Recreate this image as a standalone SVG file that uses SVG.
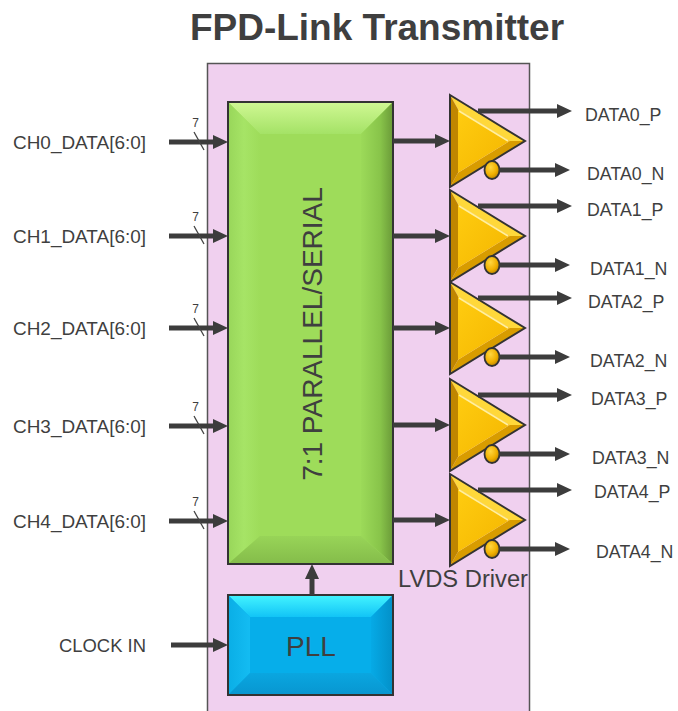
<svg xmlns="http://www.w3.org/2000/svg" xmlns:xlink="http://www.w3.org/1999/xlink" width="678" height="711" viewBox="0 0 678 711">
<style>
  text { font-family: "Liberation Sans", Arial, sans-serif; fill: #3f3f3f; }
  .lbl { font-size: 19px; }
  .out { font-size: 17.8px; }
  .bw { font-size: 12px; }
  .conn { stroke: #3c3c3c; stroke-width: 5; fill: none; marker-end: url(#ah); }
  .slash { stroke: #444; stroke-width: 1.3; fill: none; }
  .edge { fill: none; stroke: #333; stroke-width: 2; stroke-linejoin: miter; }
</style>
<defs>
  <marker id="ah" markerUnits="userSpaceOnUse" markerWidth="16" markerHeight="14" refX="3" refY="7" orient="auto" overflow="visible">
    <path d="M0,0 L15,7 L0,14 z" fill="#3c3c3c"/>
  </marker>
  <linearGradient id="gTop" x1="0" y1="0" x2="0" y2="1">
    <stop offset="0" stop-color="#d0f894"/>
    <stop offset="1" stop-color="#a4e266"/>
  </linearGradient>
  <linearGradient id="gLeft" x1="0" y1="0" x2="1" y2="0">
    <stop offset="0" stop-color="#98d65a"/>
    <stop offset="0.5" stop-color="#a6e466"/>
    <stop offset="1" stop-color="#9edc5a"/>
  </linearGradient>
  <linearGradient id="gRight" x1="0" y1="0" x2="1" y2="0">
    <stop offset="0" stop-color="#9cda59"/>
    <stop offset="0.6" stop-color="#88c44a"/>
    <stop offset="1" stop-color="#6a9a38"/>
  </linearGradient>
  <linearGradient id="gBot" x1="0" y1="0" x2="0" y2="1">
    <stop offset="0" stop-color="#98d458"/>
    <stop offset="1" stop-color="#84bc4a"/>
  </linearGradient>
  <linearGradient id="bTop" x1="0" y1="0" x2="0" y2="1">
    <stop offset="0" stop-color="#44f4ff"/>
    <stop offset="1" stop-color="#12c4f6"/>
  </linearGradient>
  <linearGradient id="bLeft" x1="0" y1="0" x2="1" y2="0">
    <stop offset="0" stop-color="#0aaee6"/>
    <stop offset="1" stop-color="#14bcf2"/>
  </linearGradient>
  <linearGradient id="bRight" x1="0" y1="0" x2="1" y2="0">
    <stop offset="0" stop-color="#06aae6"/>
    <stop offset="1" stop-color="#0390c8"/>
  </linearGradient>
  <linearGradient id="bBot" x1="0" y1="0" x2="0" y2="1">
    <stop offset="0" stop-color="#0aa6e0"/>
    <stop offset="1" stop-color="#0896d0"/>
  </linearGradient>
  <linearGradient id="yFace" x1="0" y1="0" x2="1" y2="1">
    <stop offset="0" stop-color="#ffcc10"/>
    <stop offset="1" stop-color="#f4b600"/>
  </linearGradient>
  <radialGradient id="bub" cx="0.4" cy="0.35" r="0.7">
    <stop offset="0" stop-color="#ffd640"/>
    <stop offset="0.6" stop-color="#f0b000"/>
    <stop offset="1" stop-color="#b88200"/>
  </radialGradient>
  <g id="drv">
    <polygon points="450,-46 525,0 509.7,0 458,-31.7" fill="#ffd83a"/>
    <polygon points="450,46 525,0 509.7,0 458,31.7" fill="#d89c00"/>
    <polygon points="450,-46 458,-31.7 458,31.7 450,46" fill="#c08600"/>
    <polygon points="458,-31.7 509.7,0 458,31.7" fill="url(#yFace)"/>
    <polyline points="459,-30 508,0" stroke="#fff0a0" stroke-width="1.5" fill="none"/>
    <polygon points="450,-46 525,0 450,46" class="edge"/>
    <ellipse cx="492" cy="29" rx="7.5" ry="9" fill="url(#bub)" stroke="#333" stroke-width="1.8"/>
  </g>
</defs>

<rect width="678" height="711" fill="#ffffff"/>

<text x="377" y="40" text-anchor="middle" style="font-size:37px;font-weight:bold;" fill="#3f3f3f">FPD-Link Transmitter</text>

<g id="transmitter">
  <rect x="207.5" y="63.5" width="322" height="670" fill="#f0d0ef" stroke="#555" stroke-width="1.5"/>
</g>

<g id="serializer">
  <rect x="228" y="102" width="165" height="462" fill="#9edc5a"/>
  <polygon points="228,102 393,102 361,134 260,134" fill="url(#gTop)"/>
  <polygon points="228,102 260,134 260,536 228,564" fill="url(#gLeft)"/>
  <polygon points="393,102 361,134 361,536 393,564" fill="url(#gRight)"/>
  <polygon points="228,564 260,536 361,536 393,564" fill="url(#gBot)"/>
  <rect x="228" y="102" width="165" height="462" class="edge"/>
  <text transform="translate(322,334) rotate(-90)" text-anchor="middle" style="font-size:28px;">7:1 PARALLEL/SERIAL</text>
</g>

<g id="pll">
  <rect x="228" y="595" width="165" height="100" fill="#06aeea"/>
  <polygon points="228,595 393,595 371,617 250,617" fill="url(#bTop)"/>
  <polygon points="228,595 250,617 250,673 228,695" fill="url(#bLeft)"/>
  <polygon points="393,595 371,617 371,673 393,695" fill="url(#bRight)"/>
  <polygon points="228,695 250,673 371,673 393,695" fill="url(#bBot)"/>
  <rect x="228" y="595" width="165" height="100" class="edge"/>
  <text x="311" y="656" text-anchor="middle" style="font-size:28px;">PLL</text>
</g>

<g id="driver0"><use xlink:href="#drv" href="#drv" transform="translate(0,141)"/></g>
<g id="driver1"><use xlink:href="#drv" href="#drv" transform="translate(0,236)"/></g>
<g id="driver2"><use xlink:href="#drv" href="#drv" transform="translate(0,328)"/></g>
<g id="driver3"><use xlink:href="#drv" href="#drv" transform="translate(0,425)"/></g>
<g id="driver4"><use xlink:href="#drv" href="#drv" transform="translate(0,520)"/></g>
<text x="398" y="587" style="font-size:23px;" textLength="130" lengthAdjust="spacingAndGlyphs">LVDS Driver</text>

<g id="labels">
  <text class="lbl" x="13" y="149" textLength="133" lengthAdjust="spacingAndGlyphs">CH0_DATA[6:0]</text>
  <text class="lbl" x="13" y="243" textLength="133" lengthAdjust="spacingAndGlyphs">CH1_DATA[6:0]</text>
  <text class="lbl" x="13" y="335" textLength="133" lengthAdjust="spacingAndGlyphs">CH2_DATA[6:0]</text>
  <text class="lbl" x="13" y="433" textLength="133" lengthAdjust="spacingAndGlyphs">CH3_DATA[6:0]</text>
  <text class="lbl" x="13" y="528" textLength="133" lengthAdjust="spacingAndGlyphs">CH4_DATA[6:0]</text>
  <text class="lbl" x="59" y="652" textLength="87" lengthAdjust="spacingAndGlyphs">CLOCK IN</text>

  <text class="bw" x="195.5" y="127" text-anchor="middle">7</text>
  <text class="bw" x="195.5" y="221" text-anchor="middle">7</text>
  <text class="bw" x="195.5" y="313" text-anchor="middle">7</text>
  <text class="bw" x="195.5" y="411" text-anchor="middle">7</text>
  <text class="bw" x="195.5" y="506" text-anchor="middle">7</text>

  <text class="out" x="585" y="121">DATA0_P</text>
  <text class="out" x="587" y="180">DATA0_N</text>
  <text class="out" x="587" y="216">DATA1_P</text>
  <text class="out" x="590" y="275">DATA1_N</text>
  <text class="out" x="588" y="308">DATA2_P</text>
  <text class="out" x="590" y="367">DATA2_N</text>
  <text class="out" x="591" y="405">DATA3_P</text>
  <text class="out" x="592" y="464">DATA3_N</text>
  <text class="out" x="594" y="498">DATA4_P</text>
  <text class="out" x="596" y="558">DATA4_N</text>
</g>

<g id="connectors">
  <path class="conn" d="M169,142 H216"/>
  <path class="conn" d="M169,236 H216"/>
  <path class="conn" d="M169,328 H216"/>
  <path class="conn" d="M169,426 H216"/>
  <path class="conn" d="M169,521 H216"/>
  <path class="conn" d="M171,645 H216"/>

  <path class="slash" d="M194,132 L204,150"/>
  <path class="slash" d="M194,226 L204,244"/>
  <path class="slash" d="M194,318 L204,336"/>
  <path class="slash" d="M194,416 L204,434"/>
  <path class="slash" d="M194,511 L204,529"/>

  <path class="conn" d="M312,595 V576"/>

  <path class="conn" d="M393,141 H438"/>
  <path class="conn" d="M393,236 H438"/>
  <path class="conn" d="M393,328 H438"/>
  <path class="conn" d="M393,425 H438"/>
  <path class="conn" d="M393,520 H438"/>

  <path class="conn" d="M478,111 H560"/>
  <path class="conn" d="M499,170 H558"/>
  <path class="conn" d="M478,206 H560"/>
  <path class="conn" d="M499,265 H558"/>
  <path class="conn" d="M478,298 H560"/>
  <path class="conn" d="M499,357 H558"/>
  <path class="conn" d="M478,395 H560"/>
  <path class="conn" d="M499,454 H558"/>
  <path class="conn" d="M478,490 H560"/>
  <path class="conn" d="M499,549 H558"/>
</g>
</svg>
